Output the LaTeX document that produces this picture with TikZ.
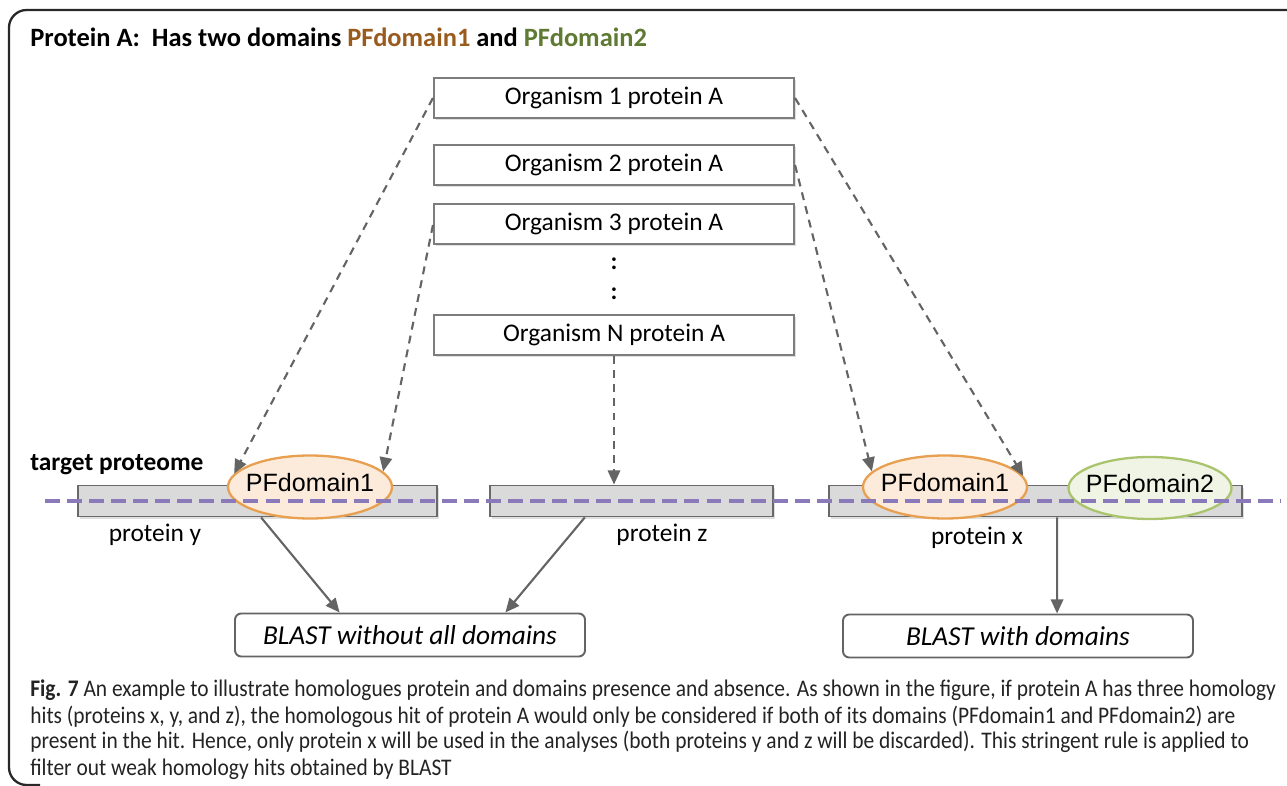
\documentclass[tikz,border=0pt]{standalone}
\usepackage{fontspec}
\setmainfont{Carlito}
\newfontfamily\arialf{Liberation Sans}
\newfontfamily\capfont{Carlito}[FakeStretch=0.9]
\usetikzlibrary{arrows.meta,shapes.geometric,shadows,calc}
\definecolor{framec}{RGB}{40,40,40}
\definecolor{boxc}{RGB}{125,125,125}
\definecolor{arrc}{RGB}{100,100,100}
\definecolor{barfill}{RGB}{218,218,218}
\definecolor{barline}{RGB}{105,105,105}
\definecolor{purp}{RGB}{139,122,186}
\definecolor{pf1fill}{RGB}{252,234,218}
\definecolor{pf1line}{RGB}{232,160,80}
\definecolor{pf2fill}{RGB}{240,244,228}
\definecolor{pf2line}{RGB}{170,196,110}
\definecolor{pf1t}{RGB}{153,90,30}
\definecolor{pf2t}{RGB}{95,122,50}
\definecolor{captc}{RGB}{35,35,35}
\def\px{0.5669pt}
\tikzset{
  orgbox/.style={draw=boxc, line width=1.2pt, fill=white, minimum width={360*\px}, minimum height={40*\px}, inner sep=0pt,
     font=\fontsize{14.4}{17}\selectfont, drop shadow={shadow xshift=1.3pt, shadow yshift=-1.3pt, opacity=0.25}},
  bar/.style={draw=barline, line width=1.1pt, fill=barfill, minimum height={31*\px}, inner sep=0pt,
     drop shadow={shadow xshift=1.3pt, shadow yshift=-1.3pt, opacity=0.25}},
  pfa/.style={ellipse, draw=pf1line, line width=1.3pt, fill=pf1fill, minimum width={164*\px}, minimum height={63*\px}, inner sep=0pt,
     font=\arialf\fontsize{14.2}{17}\selectfont},
  pfb/.style={ellipse, draw=pf2line, line width=1.3pt, fill=pf2fill, minimum width={163*\px}, minimum height={62*\px}, inner sep=0pt,
     font=\arialf\fontsize{14.2}{17}\selectfont},
  pftext/.style={inner sep=0pt, font=\arialf\fontsize{14.2}{17}\selectfont},
  blastbox/.style={draw=arrc, line width=1.1pt, fill=white, rounded corners=3.5pt, minimum width={350*\px}, minimum height={43*\px},
     inner sep=0pt, font=\itshape\fontsize{15.5}{19}\selectfont},
  dasharr/.style={draw=arrc, line width=1.2pt, dash pattern=on 4.5pt off 3.5pt, -{Triangle[length=8pt,width=7pt]}},
  solarr/.style={draw=arrc, line width=1.2pt, -{Triangle[length=8pt,width=7pt]}},
  lbl/.style={inner sep=0pt, font=\fontsize{14.4}{17}\selectfont},
  captext/.style={inner sep=0pt, anchor=base west, text=captc, font=\capfont\fontsize{13.5}{16}\selectfont}
}
\begin{document}
\begin{tikzpicture}[x=\px, y=-\px]
\useasboundingbox (0,0) rectangle (1287,786);
\draw[framec, line width=1.3pt, rounded corners=10pt] (1290,10) -- (9,10) -- (9,785) -- (40,785);
\node[anchor=west, inner sep=0pt, font=\bfseries\fontsize{15}{18}\selectfont] (title) at (30,37)
  {Protein A:\ \ Has two domains \textcolor{pf1t}{PFdomain1} and \textcolor{pf2t}{PFdomain2}};
% organism boxes
\node[orgbox] (o1) at (614,98) {Organism 1 protein A};
\node[orgbox] (o2) at (614,165) {Organism 2 protein A};
\node[orgbox] (o3) at (614,224) {Organism 3 protein A};
\node[lbl, font=\bfseries\fontsize{14}{17}\selectfont] (d1) at (614,264) {:};
\node[lbl, font=\bfseries\fontsize{14}{17}\selectfont] (d2) at (614,294) {:};
\node[orgbox] (on) at (614,335) {Organism N protein A};
% target proteome
\node[anchor=west, inner sep=0pt, font=\bfseries\fontsize{14.4}{17}\selectfont] (tp) at (30,465) {target proteome};
\node[bar, minimum width={359*\px}] (py) at (257.5,501) {};
\node[bar, minimum width={283*\px}] (pz) at (631.5,501) {};
\node[bar, minimum width={413*\px}] (px) at (1035.5,501) {};
\node[pfa] (dy) at (310,487) {};
\node[pfa] (dx1) at (945,487) {};
\node[pfb] (dx2) at (1150,488) {};
\node[pftext] (ty) at (310,483) {PFdomain1};
\node[pftext] (tx1) at (945,483) {PFdomain1};
\node[pftext] (tx2) at (1150,484) {PFdomain2};
\node[lbl] (ly) at (155,535) {protein y};
\node[lbl] (lz) at (662,535) {protein z};
\node[lbl] (lx) at (977,538) {protein x};
% purple line
\coordinate (pl1) at (45,501);
\coordinate (pl2) at (1280,501);
\draw[purp, line width=2.3pt, dash pattern=on 8.5pt off 4pt] (pl1) -- (pl2);
% blast boxes
\node[blastbox] (bw) at (410,635) {BLAST without all domains};
\node[blastbox] (bd) at (1018,636) {BLAST with domains};
% dashed arrows
\draw[dasharr] (o1.west) -- (dy.170);
\draw[dasharr] ($(o3.west)+(0,1)$) -- (dy.12);
\draw[dasharr] (on.south) -- (on.south |- pz.north);
\draw[dasharr] (o2.east) -- (dx1.168);
\draw[dasharr] (o1.east) -- (dx1.8);
% solid arrows
\draw[solarr] ($(py.south west)!0.51!(py.south east)$) -- ($(bw.north west)!0.30!(bw.north east)$);
\draw[solarr] ($(pz.south west)!0.336!(pz.south east)$) -- ($(bw.north west)!0.771!(bw.north east)$);
\draw[solarr] ($(px.south west)!0.552!(px.south east)$) -- ($(bd.north west)!0.611!(bd.north east)$);
% caption
\node[captext] (c1) at (30,697) {\textbf{Fig. 7} An example to illustrate homologues protein and domains presence and absence. As shown in the figure, if protein A has three homology};
\node[captext] (c2) at (30,723) {hits (proteins x, y, and z), the homologous hit of protein A would only be considered if both of its domains (PFdomain1 and PFdomain2) are};
\node[captext] (c3) at (30,749) {present in the hit. Hence, only protein x will be used in the analyses (both proteins y and z will be discarded). This stringent rule is applied to};
\node[captext] (c4) at (30,775) {filter out weak homology hits obtained by BLAST};
\end{tikzpicture}
\end{document}
